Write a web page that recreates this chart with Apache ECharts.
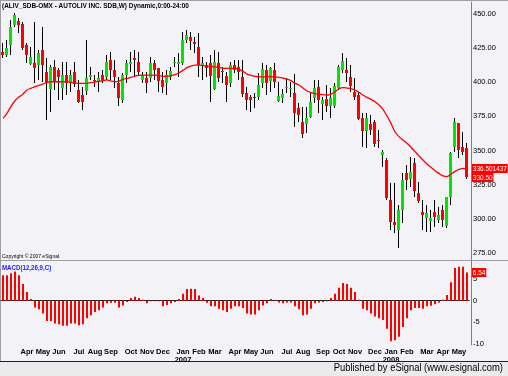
<!DOCTYPE html>
<html>
<head>
<meta charset="utf-8">
<script src="https://cdn.jsdelivr.net/npm/echarts@6/dist/echarts.min.js"></script>
<style>
  html, body { margin: 0; padding: 0; background: #f3f2f7; }
  #chart { width: 508px; height: 376px; }
</style>
</head>
<body>
<div id="chart"></div>
<script>
// weekly bars, first bar dated Friday 2006-02-24
const firstWeek = '2006-02-24'
const opens = [
  422.4, 420.0, 427.3, 442.0, 445.1, 442.7, 427.3, 413.9, 413.9, 412.7,
  423.6, 407.8, 395.6, 411.4, 409.0, 395.6, 405.3, 400.4, 407.8, 394.4,
  390.7, 393.1, 404.1, 401.7, 400.4, 405.3, 404.1, 416.3, 409.0, 399.2,
  387.0, 405.3, 413.4, 417.5, 415.1, 401.7, 402.9, 402.9, 413.9, 410.2,
  401.7, 399.2, 404.1, 413.9, 413.9, 413.9, 431.0, 433.4, 429.8, 426.1,
  411.9, 412.7, 413.9, 395.6, 413.9, 408.3, 404.6, 399.2, 412.7, 411.4,
  404.1, 391.9, 389.5, 389.5, 389.5, 399.2, 409.0, 400.4, 409.0, 386.5,
  388.2, 396.3, 395.6, 391.9, 380.9, 371.2, 369.4, 374.8, 388.2, 396.3,
  384.1, 387.5, 382.1, 382.6, 396.3, 409.0, 409.0, 404.1, 393.1, 390.7,
  373.6, 363.8, 369.4, 371.2, 357.7, 346.7, 343.1, 313.8, 297.9, 291.8,
  306.5, 333.8, 329.7, 340.6, 318.7, 305.3, 300.4, 297.9, 305.3, 299.2,
  306.5, 294.3, 316.2, 352.9, 369.9, 352.9, 351.6
]
const highs = [
  428.5, 431.0, 445.6, 451.0, 446.8, 444.4, 428.5, 426.1, 444.4, 423.6,
  440.7, 417.5, 412.7, 416.3, 410.2, 415.1, 415.1, 409.0, 415.1, 401.7,
  396.8, 431.0, 411.4, 405.3, 407.8, 409.0, 420.0, 422.4, 416.3, 404.1,
  406.6, 416.3, 422.4, 423.6, 422.4, 407.8, 407.8, 418.8, 416.3, 410.2,
  407.8, 409.0, 411.4, 418.8, 421.2, 437.1, 438.3, 437.1, 433.4, 435.8,
  418.8, 415.1, 420.0, 423.6, 422.4, 411.4, 407.8, 415.1, 416.3, 416.3,
  416.3, 396.3, 390.7, 391.9, 406.6, 413.9, 412.7, 411.4, 413.9, 400.4,
  394.9, 402.9, 400.4, 406.1, 384.6, 382.1, 382.1, 391.9, 401.7, 401.7,
  389.5, 398.0, 395.6, 399.2, 412.7, 421.2, 417.5, 412.7, 402.9, 393.1,
  377.3, 377.3, 376.0, 372.4, 365.0, 350.4, 344.3, 326.0, 326.5, 310.1,
  333.3, 339.4, 345.5, 344.3, 327.2, 313.8, 310.1, 306.5, 313.8, 308.9,
  310.1, 316.2, 349.2, 373.6, 370.4, 363.8, 355.3
]
const lows = [
  417.5, 418.8, 420.0, 440.7, 435.8, 423.6, 413.9, 412.7, 399.2, 401.7,
  400.4, 372.4, 378.5, 394.4, 387.0, 387.0, 390.7, 393.1, 396.8, 384.6,
  379.7, 390.7, 401.7, 396.8, 393.1, 399.2, 401.7, 401.7, 395.6, 382.6,
  384.6, 399.2, 407.8, 404.1, 405.3, 399.2, 391.9, 400.4, 401.7, 393.1,
  391.9, 390.7, 401.7, 411.4, 404.1, 412.7, 428.5, 423.6, 421.2, 404.1,
  401.7, 404.1, 385.8, 394.4, 400.4, 399.2, 385.8, 396.8, 406.6, 401.7,
  389.5, 379.7, 378.5, 380.9, 387.0, 395.6, 390.7, 393.1, 395.6, 385.8,
  384.6, 391.9, 389.5, 367.5, 371.2, 358.9, 362.6, 373.6, 384.6, 377.3,
  372.4, 378.5, 373.6, 380.9, 394.4, 406.6, 400.4, 393.1, 387.0, 372.4,
  352.9, 351.6, 361.4, 352.9, 351.6, 338.2, 313.8, 291.8, 289.4, 278.4,
  296.7, 321.1, 323.6, 316.2, 311.4, 291.8, 290.6, 290.6, 294.3, 296.7,
  294.3, 293.0, 310.1, 349.2, 344.3, 346.7, 329.2
]
const closes = [
  420.0, 424.9, 440.7, 449.3, 442.0, 424.9, 420.0, 418.8, 410.2, 421.2,
  412.7, 400.4, 411.4, 400.4, 404.1, 405.3, 399.2, 405.3, 399.2, 385.8,
  385.8, 402.9, 405.3, 401.4, 402.9, 401.7, 415.1, 409.0, 404.1, 388.2,
  405.3, 413.9, 414.9, 416.3, 407.8, 405.3, 399.2, 413.9, 408.5, 400.4,
  396.8, 405.3, 408.5, 414.9, 415.1, 431.0, 434.6, 430.5, 428.5, 412.7,
  413.9, 410.2, 404.1, 415.1, 402.9, 407.3, 398.0, 412.7, 409.0, 407.8,
  391.9, 387.0, 387.0, 389.2, 398.0, 409.5, 399.2, 410.2, 400.4, 389.9,
  391.4, 396.8, 395.8, 377.3, 376.0, 362.6, 373.6, 385.8, 395.6, 387.0,
  387.0, 382.6, 388.2, 397.3, 411.4, 415.8, 406.6, 397.3, 389.5, 372.9,
  363.8, 373.6, 365.0, 355.3, 357.2, 349.2, 315.0, 297.9, 295.5, 306.5,
  328.4, 328.4, 334.5, 319.9, 312.6, 302.8, 304.0, 300.4, 301.6, 302.8,
  299.2, 315.7, 348.5, 371.2, 350.4, 349.2, 330.5
]
const avgLine = [
  373.6, 377.3, 382.4, 386.5, 389.2, 391.4, 394.4, 395.6, 396.8, 397.8,
  398.7, 400.0, 400.4, 400.4, 400.4, 400.4, 400.4, 399.9, 399.5, 399.2,
  399.2, 399.2, 399.7, 400.2, 400.7, 401.2, 401.7, 400.9, 400.4, 400.9,
  402.2, 402.9, 403.6, 404.6, 405.1, 405.3, 405.3, 405.3, 405.3, 404.8,
  404.4, 404.4, 404.8, 405.6, 407.0, 408.7, 410.7, 411.9, 412.6, 412.6,
  412.2, 411.9, 411.7, 411.4, 410.9, 410.4, 410.2, 410.2, 410.2, 409.5,
  408.0, 406.0, 405.1, 404.4, 403.9, 403.9, 404.1, 404.1, 403.9, 403.6,
  403.1, 402.4, 401.2, 399.2, 398.0, 395.8, 393.6, 392.4, 391.7, 391.4,
  390.9, 390.7, 391.4, 393.1, 395.3, 396.1, 395.8, 395.3, 394.3, 392.6,
  390.7, 389.0, 387.5, 385.8, 383.4, 380.2, 375.3, 369.9, 363.8, 360.2,
  357.7, 355.3, 352.4, 349.2, 346.0, 343.1, 340.2, 337.7, 335.3, 333.3,
  331.4, 330.9, 332.8, 334.8, 336.2, 337.0, 336.501437
]
const macdHist = [
  5.9, 5.9, 6.4, 6.8, 5.9, 3.9, 2.0, 0.4, -1.6, -2.0,
  -3.0, -4.7, -4.7, -5.3, -5.5, -5.8, -5.8, -5.3, -5.3, -5.7,
  -5.5, -4.1, -3.4, -2.6, -2.2, -1.6, -0.6, -0.5, -0.5, -1.6,
  -1.1, -0.3, 0.6, 0.9, 0.6, 0.2, -0.6, -0.1, -0.1, -0.1,
  -1.3, -1.0, -0.6, -0.3, 0.4, 1.6, 2.7, 2.8, 2.7, 1.2,
  0.6, -0.5, -1.3, -1.3, -1.9, -2.2, -2.6, -1.9, -1.3, -1.3,
  -1.7, -3.0, -3.2, -3.2, -2.2, -1.1, -0.6, 0.4, 0.1, -0.4,
  -0.6, -0.4, -0.4, -1.3, -2.0, -3.4, -3.2, -1.9, -0.6, -0.4,
  -0.3, -0.1, 0.6, 1.6, 3.0, 4.1, 3.9, 3.0, 2.0, 0.2,
  -1.9, -2.2, -3.0, -3.7, -4.1, -4.5, -6.5, -9.4, -9.2, -8.4,
  -6.1, -4.1, -2.2, -1.7, -1.7, -1.9, -1.3, -1.2, -0.8, -0.4,
  0.2, 1.3, 4.3, 7.6, 7.9, 7.9, 6.54
]
const priceTicks = [275, 300, 325, 350, 375, 400, 425, 450]
const macdTicks = [-10, -5, 0, 5]
const monthNames = ['Jan', 'Feb', 'Mar', 'Apr', 'May', 'Jun', 'Jul', 'Aug', 'Sep', 'Oct', 'Nov', 'Dec']

// week dates for the category axis
const weeks = []
const t0 = new Date(firstWeek + 'T00:00:00Z').getTime()
for (let i = 0; i < closes.length; i++) {
  weeks.push(new Date(t0 + i * 7 * 86400000).toISOString().slice(0, 10))
}
const monthOf = (i) => weeks[i].slice(0, 7)
const showMonth = (i) => i >= 4 && monthOf(i) !== monthOf(i - 1)

const candles = weeks.map((w, i) => [i, opens[i], closes[i], lows[i], highs[i]])

const font = 'Liberation Sans'
const chart = echarts.init(document.getElementById('chart'), null, {renderer: 'canvas'})

function renderCandle(params, api) {
  const i = api.value(0)
  const o = api.coord([i, api.value(1)])
  const c = api.coord([i, api.value(2)])
  const l = api.coord([i, api.value(3)])
  const h = api.coord([i, api.value(4)])
  const x = Math.round(o[0])
  const up = api.value(2) >= api.value(1)
  const top = Math.round(Math.min(o[1], c[1]))
  const hgt = Math.max(1, Math.round(Math.abs(o[1] - c[1])))
  return {
    type: 'group',
    children: [{
      type: 'line',
      shape: {x1: x - 0.5, y1: Math.round(h[1]), x2: x - 0.5, y2: Math.round(l[1])},
      style: {stroke: '#000', lineWidth: 1}
    }, {
      type: 'rect',
      shape: {x: x - 2, y: top, width: 3, height: hgt},
      style: {fill: up ? '#00e600' : '#ff0000'}
    }]
  }
}

chart.setOption({
  backgroundColor: '#f3f2f7',
  animation: false,
  grid: [
    {left: 1, width: 468, top: 2, height: 258},
    {left: 1, width: 468, top: 261, height: 84}
  ],
  xAxis: [{
    type: 'category', gridIndex: 0, data: weeks,
    axisLine: {show: false}, axisTick: {show: false}, axisLabel: {show: false}
  }, {
    type: 'category', gridIndex: 1, data: weeks,
    axisLine: {lineStyle: {color: '#222', width: 1}},
    axisTick: {show: false},
    axisLabel: {
      interval: (i) => showMonth(i),
      formatter: (v) => {
        const m = parseInt(v.slice(5, 7), 10) - 1
        return m === 0 ? monthNames[m] + '\n' + v.slice(0, 4) : monthNames[m]
      },
      margin: 3,
      fontFamily: font, fontSize: 7.5, fontWeight: 'bold', color: '#000', lineHeight: 8
    }
  }],
  yAxis: [{
    type: 'value', gridIndex: 0, position: 'right', offset: 2,
    min: 269.87, max: 458.79,
    splitLine: {show: false},
    axisLine: {show: true, lineStyle: {color: '#808080'}},
    axisTick: {show: false},
    axisLabel: {
      customValues: priceTicks, formatter: (v) => v.toFixed(2), margin: 2,
      fontFamily: font, fontSize: 7.5, color: '#000'
    }
  }, {
    type: 'value', gridIndex: 1, position: 'right', offset: 2,
    min: -10.3, max: 9.23,
    splitLine: {show: false},
    axisLine: {show: true, lineStyle: {color: '#808080'}},
    axisTick: {show: false},
    axisLabel: {
      customValues: macdTicks, formatter: (v) => String(v), margin: 2,
      fontFamily: font, fontSize: 7.5, color: '#000'
    }
  }],
  series: [{
    type: 'custom', xAxisIndex: 0, yAxisIndex: 0,
    renderItem: renderCandle,
    encode: {x: 0, y: [1, 2, 3, 4]},
    data: candles
  }, {
    type: 'line', xAxisIndex: 0, yAxisIndex: 0,
    data: avgLine, symbol: 'none', smooth: 0.3,
    lineStyle: {color: '#ff0000', width: 1.3}
  }, {
    type: 'bar', xAxisIndex: 1, yAxisIndex: 1,
    data: macdHist, barWidth: 2,
    itemStyle: {color: '#ff0000'}
  }]
})

// last-value tags on the right scale
const last = closes.length - 1
const pMa = chart.convertToPixel({xAxisIndex: 0, yAxisIndex: 0}, [last, avgLine[last]])
const pClose = chart.convertToPixel({xAxisIndex: 0, yAxisIndex: 0}, [last, closes[last]])
const pMacd = chart.convertToPixel({xAxisIndex: 1, yAxisIndex: 1}, [last, macdHist[last]])
const tag = (y, text) => ({
  type: 'text', x: 472, y: Math.round(y) - 5, z: 20, scaleX: 0.86,
  style: {
    text: text, fill: '#fff', backgroundColor: '#ff0000', padding: [1, 1, 0, 1],
    font: '7.5px "' + font + '"'
  }
})
// narrow header texts
const note = (x, y, text, color, size, weight, sx) => ({
  type: 'text', x: x, y: y, scaleX: sx,
  style: {text: text, fill: color, font: weight + ' ' + size + 'px "' + font + '"'}
})

chart.setOption({
  graphic: [
    {type: 'line', shape: {x1: 0, y1: 0.5, x2: 508, y2: 0.5}, style: {stroke: '#a0a0a0'}},
    {type: 'line', shape: {x1: 0.5, y1: 0, x2: 0.5, y2: 362}, style: {stroke: '#a0a0a0'}},
    {type: 'line', shape: {x1: 0, y1: 260.5, x2: 508, y2: 260.5}, style: {stroke: '#a0a0a0'}},
    {type: 'rect', shape: {x: 0, y: 362, width: 508, height: 14}, style: {fill: '#ebebeb'}},
    {type: 'line', shape: {x1: 0, y1: 361.5, x2: 508, y2: 361.5}, style: {stroke: '#222'}},
    note(2, 2, '(ALIV_SDB-OMX - AUTOLIV INC. SDB,W) Dynamic,0:00-24:00', '#000', 7.5, 'bold', 0.86),
    note(2, 254, 'Copyright \u00a9 2007 eSignal.', '#000', 5, 'normal', 1),
    note(2, 264, 'MACD(12,26,9,C)', '#1a1aff', 7.5, 'bold', 0.82),
    {
      type: 'text', x: 503, y: 363, scaleX: 0.94,
      style: {text: 'Published by eSignal (www.esignal.com)', fill: '#000', align: 'right',
        font: '10px "' + font + '"'}
    },
    tag(pMa[1], '336.501437'),
    tag(pClose[1] + 1, closes[last].toFixed(2)),
    tag(pMacd[1], macdHist[last].toFixed(2))
  ]
})
</script>
</body>
</html>
